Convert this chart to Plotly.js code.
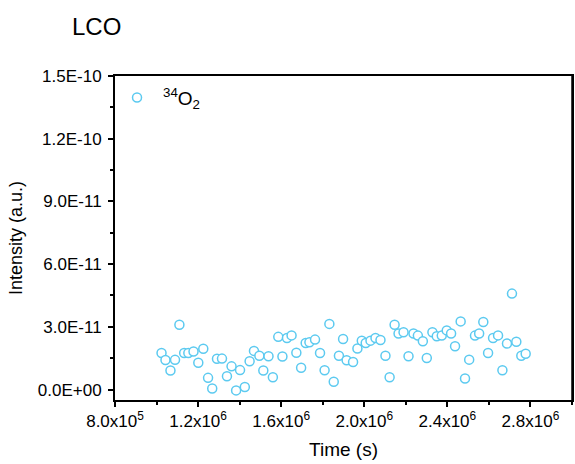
<!DOCTYPE html>
<html>
<head>
<meta charset="utf-8">
<script src="https://cdn.plot.ly/plotly-3.0.1.min.js"></script>
<style>
  html, body { margin: 0; padding: 0; background: #fff; overflow: hidden; }
  #chart { width: 575px; height: 464px; }
</style>
</head>
<body>
<div id="chart"></div>
<script>
// 34O2 signal vs time
const timeS = [
  1.024e6, 1.043e6, 1.067e6, 1.089e6, 1.110e6, 1.133e6, 1.153e6, 1.178e6, 1.201e6, 1.225e6,
  1.248e6, 1.268e6, 1.291e6, 1.315e6, 1.339e6, 1.361e6, 1.383e6, 1.402e6, 1.425e6, 1.448e6,
  1.469e6, 1.495e6, 1.514e6, 1.539e6, 1.560e6, 1.586e6, 1.606e6, 1.628e6, 1.650e6, 1.673e6,
  1.696e6, 1.718e6, 1.736e6, 1.763e6, 1.787e6, 1.809e6, 1.832e6, 1.853e6, 1.878e6, 1.898e6,
  1.915e6, 1.946e6, 1.967e6, 1.988e6, 2.007e6, 2.030e6, 2.054e6, 2.078e6, 2.102e6, 2.122e6,
  2.146e6, 2.165e6, 2.189e6, 2.213e6, 2.237e6, 2.258e6, 2.282e6, 2.301e6, 2.328e6, 2.349e6,
  2.373e6, 2.397e6, 2.418e6, 2.437e6, 2.464e6, 2.485e6, 2.505e6, 2.533e6, 2.553e6, 2.573e6,
  2.596e6, 2.620e6, 2.644e6, 2.665e6, 2.687e6, 2.711e6, 2.732e6, 2.756e6, 2.777e6
];
const intensity = [
  1.75e-11, 1.41e-11, 0.91e-11, 1.42e-11, 3.10e-11, 1.75e-11, 1.75e-11, 1.82e-11, 1.28e-11, 1.95e-11,
  0.56e-11, 0.05e-11, 1.47e-11, 1.48e-11, 0.64e-11, 1.11e-11, -0.04e-11, 0.93e-11, 0.12e-11, 1.35e-11,
  1.85e-11, 1.62e-11, 0.91e-11, 1.59e-11, 0.59e-11, 2.52e-11, 1.58e-11, 2.47e-11, 2.59e-11, 1.76e-11,
  1.04e-11, 2.23e-11, 2.26e-11, 2.39e-11, 1.75e-11, 0.92e-11, 3.14e-11, 0.37e-11, 1.62e-11, 2.42e-11,
  1.40e-11, 1.32e-11, 1.96e-11, 2.34e-11, 2.23e-11, 2.34e-11, 2.47e-11, 2.37e-11, 1.62e-11, 0.59e-11,
  3.10e-11, 2.68e-11, 2.74e-11, 1.59e-11, 2.68e-11, 2.58e-11, 2.31e-11, 1.51e-11, 2.74e-11, 2.55e-11,
  2.58e-11, 2.83e-11, 2.68e-11, 2.07e-11, 3.26e-11, 0.53e-11, 1.43e-11, 2.58e-11, 2.68e-11, 3.23e-11,
  1.75e-11, 2.47e-11, 2.59e-11, 0.92e-11, 2.20e-11, 4.59e-11, 2.29e-11, 1.62e-11, 1.71e-11
];

const xTickVals = [8e5, 1.2e6, 1.6e6, 2.0e6, 2.4e6, 2.8e6];
const xTickText = ['8.0x10<sup>5</sup>', '1.2x10<sup>6</sup>', '1.6x10<sup>6</sup>',
                   '2.0x10<sup>6</sup>', '2.4x10<sup>6</sup>', '2.8x10<sup>6</sup>'];
const yTickVals = [0, 3e-11, 6e-11, 9e-11, 1.2e-10, 1.5e-10];
const yTickText = ['0.0E+00', '3.0E-11', '6.0E-11', '9.0E-11', '1.2E-10', '1.5E-10'];

const FONT = 'Liberation Sans, Arial, sans-serif';
const MARKER_COLOR = '#5CCAF0';

const trace = {
  type: 'scatter',
  mode: 'markers',
  x: timeS,
  y: intensity,
  name: '<sup>34</sup>O<sub>2</sub>',
  marker: {
    symbol: 'circle',
    size: 9,
    color: '#ffffff',
    line: { color: MARKER_COLOR, width: 1.5 }
  }
};

const axisCommon = {
  showgrid: false,
  zeroline: false,
  showline: true,
  linecolor: '#000',
  linewidth: 2,
  mirror: true,
  ticks: 'outside',
  ticklen: 5,
  tickwidth: 2,
  tickcolor: '#000'
};

const layout = {
  width: 575,
  height: 464,
  margin: { l: 115, r: 3, t: 76, b: 64 },
  paper_bgcolor: '#fff',
  plot_bgcolor: '#fff',
  font: { family: FONT, color: '#000' },
  title: {
    text: 'LCO',
    font: { family: FONT, size: 24, color: '#000' },
    xref: 'container', yref: 'container',
    x: 72 / 575, xanchor: 'left',
    y: 1 - 27 / 464, yanchor: 'middle'
  },
  showlegend: true,
  legend: {
    x: -0.0087, y: 0.992, xanchor: 'left', yanchor: 'top',
    itemwidth: 42,
    bgcolor: 'rgba(0,0,0,0)',
    font: { family: FONT, size: 19, color: '#000' }
  },
  // right frame edge of the plot box
  shapes: [{
    type: 'line', xref: 'paper', yref: 'paper',
    x0: 1, x1: 1, y0: 0, y1: 1,
    line: { color: '#000', width: 1.5 }
  }],
  xaxis: Object.assign({}, axisCommon, {
    range: [8e5, 3e6],
    tickmode: 'array',
    tickvals: xTickVals,
    ticktext: xTickText,
    tickfont: { family: FONT, size: 17, color: '#000' },
    minor: { tickmode: 'linear', tick0: 8e5, dtick: 2e5, ticks: 'outside', ticklen: 3, tickwidth: 2, tickcolor: '#000' },
    title: { text: 'Time (s)', font: { family: FONT, size: 19, color: '#000' }, standoff: 12 }
  }),
  yaxis: Object.assign({}, axisCommon, {
    range: [-5e-12, 1.5e-10],
    tickmode: 'array',
    tickvals: yTickVals,
    ticktext: yTickText,
    tickfont: { family: FONT, size: 17, color: '#000' },
    ticklabelstandoff: 3,
    minor: { tickmode: 'linear', tick0: 0, dtick: 1.5e-11, ticks: 'outside', ticklen: 3, tickwidth: 2, tickcolor: '#000' },
    title: { text: 'Intensity (a.u.)', font: { family: FONT, size: 18, color: '#000' }, standoff: 10 }
  })
};

Plotly.newPlot('chart', [trace], layout, { displayModeBar: false, staticPlot: true });
</script>
</body>
</html>
